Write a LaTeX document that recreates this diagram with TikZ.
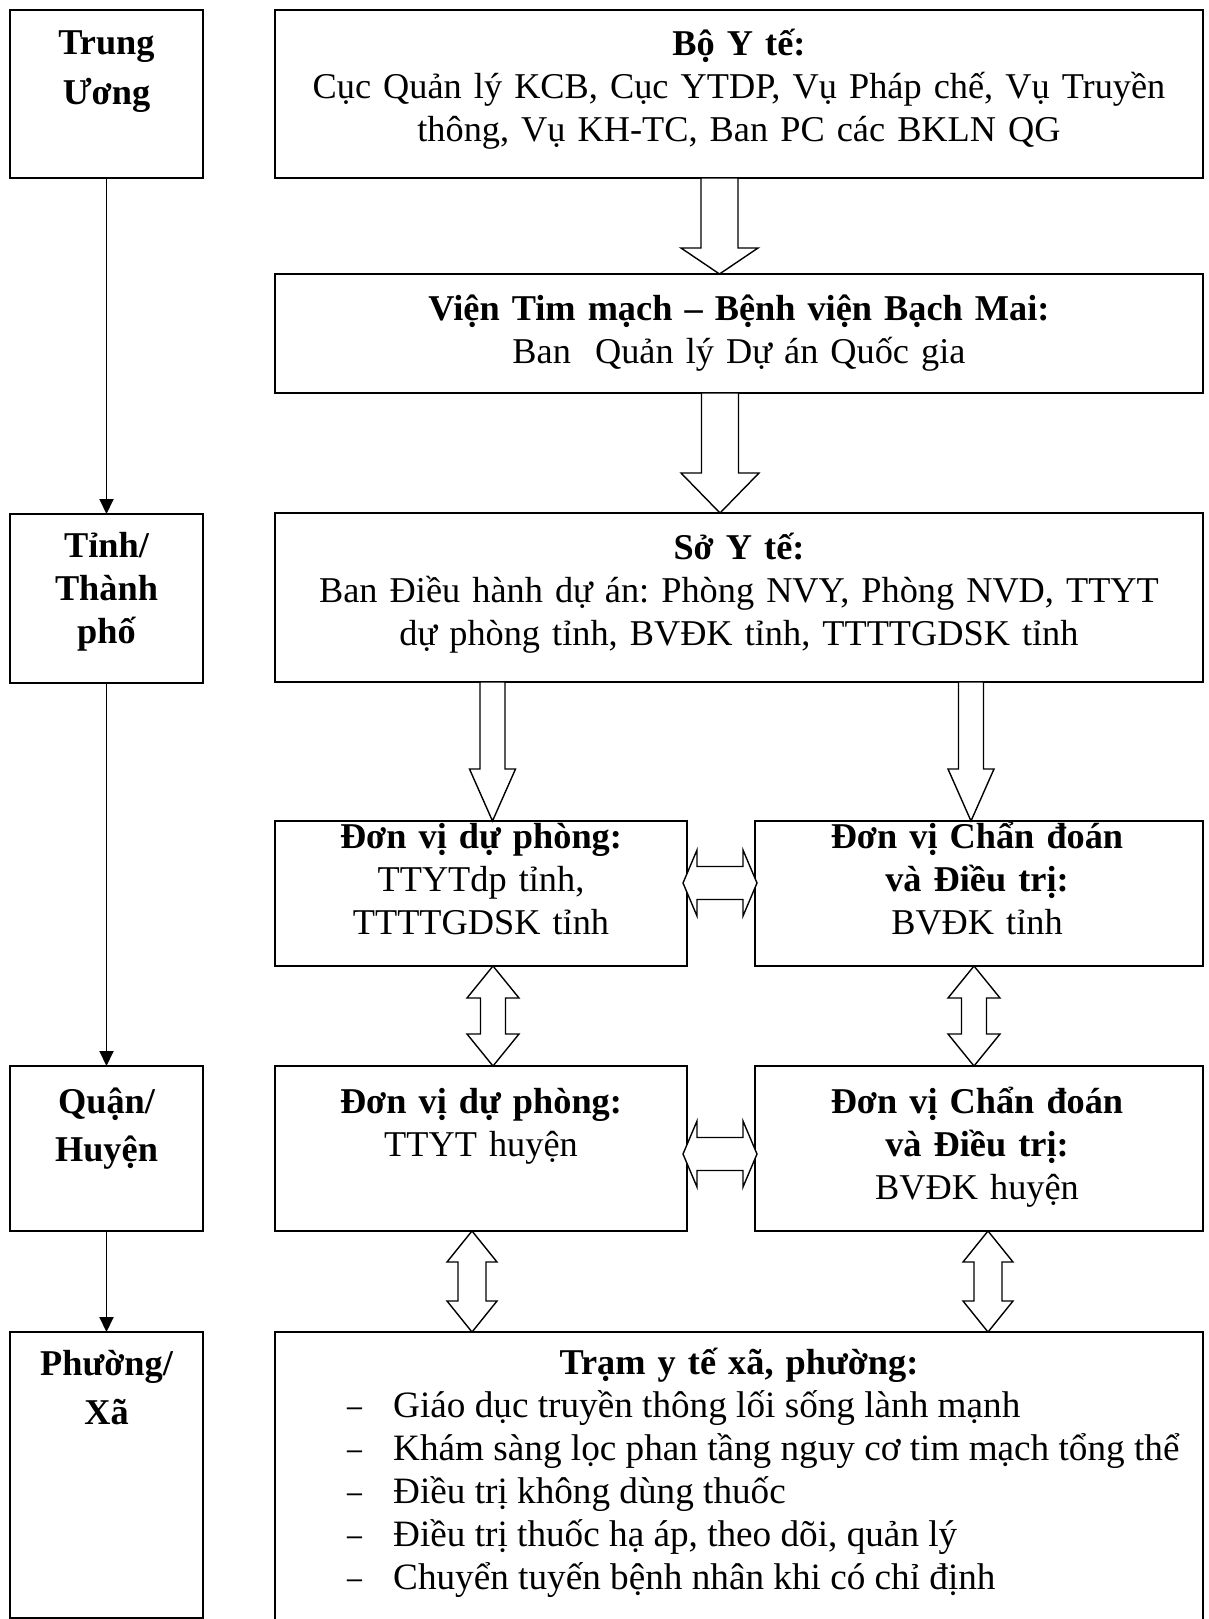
\documentclass[tikz,border=0pt]{standalone}
\usepackage{fontspec}
\setmainfont{Liberation Serif}
\usetikzlibrary{arrows.meta}
\newcommand{\fs}{\fontsize{36.3}{43}\selectfont\frenchspacing}
\newcommand{\fl}{\fontsize{37.2}{43}\selectfont\frenchspacing}
% hollow down arrow: x, ytop, ybot, shaft half width, head half width, head length
\newcommand{\HDown}[6]{%
  \draw[hollow] (#1-#4,#2) -- (#1+#4,#2) -- (#1+#4,#3-#6) -- (#1+#5,#3-#6) -- (#1,#3)
    -- (#1-#5,#3-#6) -- (#1-#4,#3-#6) -- cycle;}
% hollow vertical double arrow
\newcommand{\HVdouble}[6]{%
  \draw[hollow] (#1,#2) -- (#1+#5,#2+#6) -- (#1+#4,#2+#6) -- (#1+#4,#3-#6) -- (#1+#5,#3-#6)
    -- (#1,#3) -- (#1-#5,#3-#6) -- (#1-#4,#3-#6) -- (#1-#4,#2+#6) -- (#1-#5,#2+#6) -- cycle;}
% hollow horizontal double arrow: y, xleft, xright, shaft half, head half, head length
\newcommand{\HHdouble}[6]{%
  \draw[hollow] (#2,#1) -- (#2+#6,#1-#5) -- (#2+#6,#1-#4) -- (#3-#6,#1-#4) -- (#3-#6,#1-#5)
    -- (#3,#1) -- (#3-#6,#1+#5) -- (#3-#6,#1+#4) -- (#2+#6,#1+#4) -- (#2+#6,#1+#5) -- cycle;}
\begin{document}
\begin{tikzpicture}[x=1pt,y=-1pt,
  box/.style={draw, line width=1.6pt, rectangle, inner sep=0pt, outer sep=0pt, anchor=north west},
  txt/.style={font=\fs, inner sep=0pt, anchor=base, align=center, text width=#1},
  txt/.default=900pt,
  hollow/.style={draw, line width=1.4pt, fill=white, line join=miter},
  conn/.style={line width=1.9pt, -{Triangle[length=15pt,width=14pt]}}
]
\useasboundingbox (0,0) rectangle (1208,1619);

% left column
\node[box, minimum width=193pt, minimum height=168pt] (lTW) at (10,10) {};
\node[box, minimum width=193pt, minimum height=169pt] (lTinh) at (10,514) {};
\node[box, minimum width=193pt, minimum height=165pt] (lQuan) at (10,1066) {};
\node[box, minimum width=193pt, minimum height=286pt] (lPhuong) at (10,1332) {};

\node[txt=185pt] (tTW) at (106.5,55) {\bfseries Trung\\[7pt]Ương};
\node[txt=185pt] (tTinh) at (106.5,557) {\bfseries Tỉnh/\\Thành\\phố};
\node[txt=185pt] (tQuan) at (106.5,1113) {\bfseries Quận/\\[5pt]Huyện};
\node[txt=185pt] (tPhuong) at (106.5,1375) {\bfseries Phường/\\[6pt]Xã};

\draw[conn] (lTW.south) -- (lTinh.north);
\draw[conn] (lTinh.south) -- (lQuan.north);
\draw[conn] (lQuan.south) -- (lPhuong.north);

% right column boxes
\node[box, minimum width=928pt, minimum height=168pt] (bBo) at (275,10) {};
\node[box, minimum width=928pt, minimum height=119pt] (bVien) at (275,274) {};
\node[box, minimum width=928pt, minimum height=169pt] (bSo) at (275,513) {};
\node[box, minimum width=412pt, minimum height=145pt] (bDP1) at (275,821) {};
\node[box, minimum width=448pt, minimum height=145pt] (bCD1) at (755,821) {};
\node[box, minimum width=412pt, minimum height=165pt] (bDP2) at (275,1066) {};
\node[box, minimum width=448pt, minimum height=165pt] (bCD2) at (755,1066) {};
\node[box, minimum width=928pt, minimum height=330pt] (bTram) at (275,1332) {};

\node[txt] (tBo) at (739,56) {\textbf{Bộ Y tế:}\\Cục Quản lý KCB, Cục YTDP, Vụ Pháp chế, Vụ Truyền\\thông, Vụ KH-TC, Ban PC các BKLN QG};
\node[txt] (tVien) at (739,320) {\textbf{Viện Tim mạch – Bệnh viện Bạch Mai:}\\Ban\ \ Quản lý Dự án Quốc gia};
\node[txt] (tSo) at (739,559) {\textbf{Sở Y tế:}\\Ban Điều hành dự án: Phòng NVY, Phòng NVD, TTYT\\dự phòng tỉnh, BVĐK tỉnh, TTTTGDSK tỉnh};
\node[txt=400pt] (tDP1) at (481,848) {\textbf{Đơn vị dự phòng:}\\TTYTdp tỉnh,\\TTTTGDSK tỉnh};
\node[txt=440pt] (tCD1) at (977,848) {{\bfseries Đơn vị Chẩn đoán\\và Điều trị:}\\BVĐK tỉnh};
\node[txt=400pt] (tDP2) at (481,1113) {\textbf{Đơn vị dự phòng:}\\TTYT huyện};
\node[txt=440pt] (tCD2) at (977,1113) {{\bfseries Đơn vị Chẩn đoán\\và Điều trị:}\\BVĐK huyện};
\node[txt] (tTram) at (739,1374) {\textbf{Trạm y tế xã, phường:}};
\node[font=\fl, inner sep=0pt, anchor=base west] (tList) at (347,1417) {%
  \begin{tabular}[t]{@{}p{46pt}@{}l@{}}
  \scalebox{0.8}[1]{–} & Giáo dục truyền thông lối sống lành mạnh\\
  \scalebox{0.8}[1]{–} & Khám sàng lọc phan tầng nguy cơ tim mạch tổng thể\\
  \scalebox{0.8}[1]{–} & Điều trị không dùng thuốc\\
  \scalebox{0.8}[1]{–} & Điều trị thuốc hạ áp, theo dõi, quản lý\\
  \scalebox{0.8}[1]{–} & Chuyển tuyến bệnh nhân khi có chỉ định
  \end{tabular}};

% hollow arrows
\HDown{719.5}{178}{274}{18.5}{38.5}{26}
\HDown{720}{393}{513}{18.5}{39}{40}
\HDown{492.5}{682}{821}{12.5}{23}{52}
\HDown{971}{682}{821}{12.5}{23}{52}
\HHdouble{883}{683}{757}{16.5}{33}{14}
\HHdouble{1154}{683}{757}{16.5}{33}{14}
\HVdouble{493}{966}{1066}{12.5}{26}{32}
\HVdouble{974}{966}{1066}{12.5}{26}{32}
\HVdouble{472}{1231}{1332}{14}{25}{31}
\HVdouble{988}{1231}{1332}{14}{25}{31}
\end{tikzpicture}
\end{document}
